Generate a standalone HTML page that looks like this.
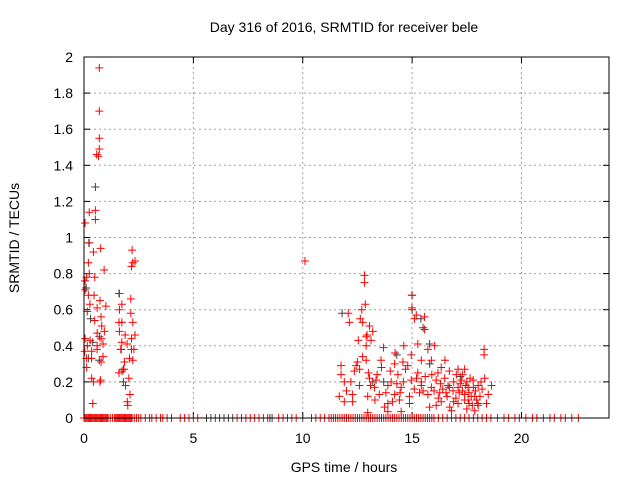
<!DOCTYPE html>
<html><head><meta charset="utf-8"><style>
body{margin:0;background:#fff}
svg{display:block;font-family:"Liberation Sans",sans-serif}
</style></head><body>
<svg id="c" width="640" height="480" xmlns="http://www.w3.org/2000/svg">
<text x="344" y="32" text-anchor="middle" font-size="14">Day 316 of 2016, SRMTID for receiver bele</text>
<text x="344" y="472" text-anchor="middle" font-size="14">GPS time / hours</text>
<text transform="translate(19,238) rotate(-90)" text-anchor="middle" font-size="14">SRMTID / TECUs</text>
<g id="grid"></g>
<g id="ticks"></g>
<g id="black"></g>
<g id="red"></g>
<rect x="84" y="57" width="525" height="361" fill="none" stroke="#000"/>
</svg>
<script>
const xTicks=[0,5,10,15,20];
const yTicks=[0,0.2,0.4,0.6,0.8,1,1.2,1.4,1.6,1.8,2];
const yTickLabels=["0","0.2","0.4","0.6","0.8","1","1.2","1.4","1.6","1.8","2"];
const redPoints=[[0.70,1.94],[0.70,1.70],[0.70,1.55],[0.70,1.49],[0.58,1.46],[0.66,1.45],[0.24,1.14],[0.52,1.15],[0.52,1.10],[0.05,1.08],[0.24,0.97],[0.43,0.92],[0.76,0.94],[0.2,0.86],[0.24,0.80],[0.12,0.78],[0.49,0.78],[0.92,0.82],[0.05,0.76],[0.05,0.71],[0.2,0.68],[0.46,0.68],[0.27,0.63],[0.73,0.65],[0.15,0.59],[0.6,0.61],[1.0,0.62],[0.78,0.56],[0.49,0.54],[0.81,0.51],[0.6,0.47],[0.93,0.48],[0.05,0.44],[0.28,0.43],[0.78,0.44],[0.15,0.40],[0.6,0.40],[0.87,0.41],[0.03,0.37],[0.35,0.37],[0.6,0.38],[0.11,0.33],[0.34,0.33],[0.87,0.34],[0.78,0.31],[0.12,0.28],[0.35,0.22],[0.43,0.2],[0.76,0.21],[0.73,0.20],[0.4,0.08],
[1.62,0.69],[1.73,0.63],[1.62,0.60],[2.14,0.66],[1.60,0.53],[1.73,0.53],[2.14,0.58],[2.23,0.53],[1.62,0.48],[1.88,0.46],[2.33,0.46],[2.17,0.44],[1.73,0.42],[1.68,0.38],[1.97,0.41],[2.17,0.38],[2.28,0.38],[2.08,0.33],[2.23,0.32],[1.85,0.31],[1.82,0.27],[1.60,0.25],[1.74,0.26],[1.90,0.18],[2.05,0.22],[2.1,0.13],[1.98,0.09],[2.0,0.07],[2.2,0.93],[2.23,0.86],[2.17,0.84],[2.33,0.87],
[10.1,0.87],
[12.82,0.79],[12.82,0.75],[12.86,0.63],[12.08,0.58],[12.13,0.53],[12.7,0.6],[12.74,0.53],[12.63,0.55],[13.05,0.51],[13.2,0.48],[12.94,0.46],[12.9,0.45],[12.54,0.43],[13.12,0.43],[12.9,0.40],[14.99,0.68],[14.99,0.61],[15.19,0.57],[15.57,0.56],[15.57,0.49],[15.11,0.55],[14.62,0.40],[15.26,0.41],[16.03,0.40],[13.69,0.39],[14.22,0.36],[14.96,0.35],[15.72,0.38],[18.29,0.38],[18.29,0.35],[11.75,0.29],[12.44,0.29],[12.74,0.34],[12.9,0.32],[13.58,0.32],[14.2,0.30],[14.58,0.31],[15.42,0.32],[15.88,0.32],[16.33,0.28],[17.1,0.27],[17.4,0.27],[11.75,0.24],[12.36,0.26],[14.35,0.24],[15.26,0.25],[16.18,0.25],[17.02,0.24],[11.9,0.20],[12.2,0.20],[13.05,0.22],[13.35,0.21],[14.04,0.20],[14.96,0.21],[15.42,0.20],[16.1,0.21],[16.49,0.22],[17.25,0.21],[17.79,0.21],[18.32,0.22],[12.59,0.18],[13.28,0.17],[13.89,0.18],[14.5,0.17],[15.42,0.18],[15.88,0.17],[16.64,0.18],[17.1,0.17],[17.56,0.17],[18.02,0.18],[18.63,0.18],[11.67,0.12],[12.28,0.13],[12.97,0.12],[13.5,0.13],[14.2,0.13],[14.88,0.12],[15.34,0.14],[15.72,0.13],[16.26,0.14],[16.87,0.15],[17.4,0.13],[17.86,0.12],[18.48,0.13],[11.9,0.09],[12.28,0.09],[13.74,0.06],[13.89,0.08],[14.42,0.10],[14.88,0.08],[15.8,0.06],[16.33,0.09],[16.72,0.06],[17.1,0.08],[17.56,0.10],[18.02,0.07],[18.4,0.08],[13.89,0.035],[14.5,0.035],[12.97,0.03],[16.8,0.04],[17.86,0.04],
[17.3,0.15],[17.5,0.2],[17.6,0.14],[17.7,0.12],[17.4,0.1],[17.8,0.17],[17.2,0.19],[17.9,0.15],[17.6,0.08],[17.5,0.05],[17.0,0.11],[16.9,0.2],[16.6,0.12],[16.4,0.16],[16.2,0.11],[18.1,0.12],[18.2,0.16],[13.0,0.25],[13.6,0.28],[14.0,0.26],[14.7,0.27],[15.6,0.23],[16.0,0.15],[16.5,0.32],[12.0,0.15],[13.3,0.1],[14.6,0.2],[15.1,0.16],
[12.5,0.31],[12.6,0.27],[13.1,0.18],[13.4,0.24],[13.8,0.14],[14.1,0.09],[14.3,0.19],[14.8,0.29],[15.2,0.22],[15.5,0.15],[15.9,0.24],[16.1,0.07],[16.3,0.19],[16.7,0.26],[16.9,0.09],[17.3,0.24],[17.45,0.18],[17.65,0.22],[17.75,0.07],[17.95,0.1],[18.15,0.2],[17.15,0.14],[16.55,0.14],[14.45,0.14]];
const blackPoints=[[0.52,1.28],[0.22,0.97],[0.1,0.72],[0.3,0.55],[0.4,0.42],[0.2,0.33],[0.7,0.45],[0.7,0.32],[1.6,0.69],[1.8,0.27],[1.8,0.2],[1.7,0.38],[11.8,0.58],[13.2,0.2],[13.7,0.2],[15.0,0.68],[15.0,0.6],[15.5,0.5],[15.4,0.55],[15.8,0.41],[15.8,0.3],[16.7,0.17],[17.2,0.23],[18.0,0.08],[14.3,0.35]];
const redZeros=[0,0.05,0.1,0.15,0.2,0.25,0.3,0.35,0.4,0.45,0.5,0.55,0.6,0.65,0.7,0.75,0.8,0.85,0.9,0.95,1.0,1.05,1.1,1.2,1.3,1.4,1.45,1.5,1.55,1.6,1.65,1.7,1.75,1.8,1.85,1.9,1.95,2.0,2.05,2.1,2.15,2.2,2.3,2.4,2.5,2.6,2.8,3.0,3.1,3.3,3.5,3.6,3.8,4.0,4.4,4.6,4.8,5.0,5.2,7.0,7.2,7.4,7.6,7.8,8.0,8.2,8.4,8.9,9.1,9.3,9.5,9.7,10.4,10.6,10.8,11.0,11.2,11.3,11.4,11.5,11.6,11.7,11.8,11.9,12.0,12.1,12.2,12.3,12.4,12.5,12.6,12.7,12.8,12.9,13.0,13.1,13.2,13.3,13.4,13.5,13.6,13.7,13.8,13.9,14.0,14.1,14.2,14.3,14.4,14.5,14.6,14.7,14.8,14.9,15.0,15.1,15.2,15.3,15.4,15.5,15.6,15.7,15.8,15.9,16.0,16.2,16.4,16.6,16.8,17.0,17.2,17.4,17.6,17.8,18.0,18.2,18.4,18.6,18.9,19.2,19.4,19.7,19.9,20.2,20.5,20.7,21.0,21.3,21.5,21.8,22.0,22.3,22.6];
const blackZeros=[5.6,5.8,6.0,6.2,6.4,6.6,6.8,8.5,8.6,10.0];
const NS='http://www.w3.org/2000/svg';
const X=v=>84+v*(525/24), Y=v=>418-v*(361/2);
function mk(tag,attrs,parent){const e=document.createElementNS(NS,tag);for(const k in attrs)e.setAttribute(k,attrs[k]);parent.appendChild(e);return e;}
const grid=document.getElementById('grid'),ticks=document.getElementById('ticks');
yTicks.forEach((v,i)=>{
  if(v>0&&v<2){const l=mk('line',{x1:84,x2:609,y1:Y(v),y2:Y(v),stroke:'#a0a0a0','stroke-dasharray':'2,3'},grid);
  
  }
  mk('line',{x1:84,x2:90,y1:Y(v),y2:Y(v),stroke:'#000'},ticks);
  mk('line',{x1:603,x2:609,y1:Y(v),y2:Y(v),stroke:'#000'},ticks);
  const t=mk('text',{x:73,y:Y(v)+5,'text-anchor':'end','font-size':'14'},ticks);t.textContent=yTickLabels[i];
  
  
});
xTicks.forEach(v=>{
  if(v>0){const l=mk('line',{x1:X(v),x2:X(v),y1:57,y2:418,stroke:'#a0a0a0','stroke-dasharray':'2,3'},grid);
  
  }
  mk('line',{x1:X(v),x2:X(v),y1:412,y2:418,stroke:'#000'},ticks);
  mk('line',{x1:X(v),x2:X(v),y1:57,y2:63,stroke:'#000'},ticks);
  const t=mk('text',{x:X(v),y:443,'text-anchor':'middle','font-size':'14'},ticks);t.textContent=String(v);
  
  
});
function plus(g,x,y,col){const p=mk('path',{d:`M${X(x)-4},${Y(y)}h8M${X(x)},${Y(y)-4}v8`,stroke:col,'stroke-width':1,fill:'none'},g);
  
  }
const gb=document.getElementById('black'),gr=document.getElementById('red');
blackPoints.forEach(p=>plus(gb,p[0],p[1],'#404040'));
blackZeros.forEach(x=>plus(gb,x,0,'#404040'));
redPoints.forEach(p=>plus(gr,p[0],p[1],'#ff0000'));
redZeros.forEach(x=>plus(gr,x,0,'#ff0000'));
</script>
</body></html>
